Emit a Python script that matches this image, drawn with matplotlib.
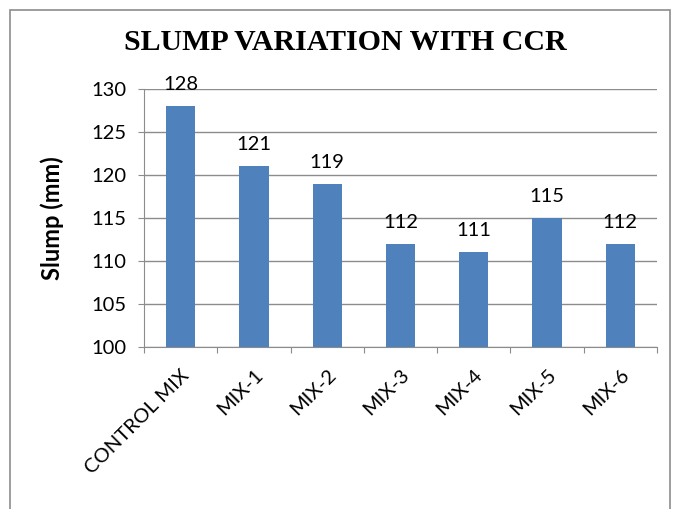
import matplotlib
matplotlib.use("Agg")
import matplotlib.pyplot as plt
from matplotlib.patches import Rectangle
import numpy as np

mixes = ["CONTROL MIX", "MIX-1", "MIX-2", "MIX-3", "MIX-4", "MIX-5", "MIX-6"]
slump = [128, 121, 119, 112, 111, 115, 112]
y_ticks = [100, 105, 110, 115, 120, 125, 130]

W, H = 678, 509
fig = plt.figure(figsize=(W / 100, H / 100), dpi=100)
fig.patch.set_facecolor("white")

# chart border like an excel chart area
fig.patches.append(Rectangle((10 / W, -0.01), 660 / W, 1 - 10 / H + 0.01,
                             transform=fig.transFigure, fill=False,
                             edgecolor="#8c8c8c", linewidth=1.2))

ax = fig.add_axes([144 / W, 1 - 347 / H, (657 - 144) / W, (347 - 89) / H])
x = np.arange(len(mixes))
ax.bar(x, slump, width=0.4, color="#4F81BD", zorder=3)
ax.set_ylim(100, 130)
ax.set_xlim(-0.5, len(mixes) - 0.5)

ax.set_yticks(y_ticks)
ax.set_yticklabels([str(v) for v in y_ticks], fontsize=14.5, family="Lato")
ax.grid(axis="y", color="#8c8c8c", linewidth=1, zorder=0)

# ticks at category boundaries, labels at centres
ax.set_xticks(np.arange(-0.5, len(mixes)), minor=False)
ax.set_xticklabels([])
ax.set_xticks(x, minor=True)
ax.set_xticklabels(mixes, minor=True, rotation=45, ha="right",
                   rotation_mode="anchor", fontsize=14.5, family="Lato")
ax.tick_params(axis="x", which="minor", length=0, pad=14)
ax.tick_params(axis="x", which="major", length=4.5, color="#8c8c8c")
ax.tick_params(axis="y", length=4.5, color="#8c8c8c", pad=8)

for s in ["top", "right"]:
    ax.spines[s].set_visible(False)
for s in ["left", "bottom"]:
    ax.spines[s].set_color("#8c8c8c")

for xi, v in zip(x, slump):
    ax.text(xi, v + 1.5, str(v), ha="center", va="bottom", fontsize=14.5,
            family="Lato")

fig.text(52 / W, 1 - 218 / H, "Slump (mm)", rotation=90, ha="center",
         va="center", fontsize=17, fontweight="bold", family="Lato")

fig.text(345 / W, 1 - 43 / H, "SLUMP VARIATION WITH CCR", ha="center",
         va="center", fontsize=21.5, fontweight="bold", family="Liberation Serif")

fig.savefig("out.png", dpi=100)
